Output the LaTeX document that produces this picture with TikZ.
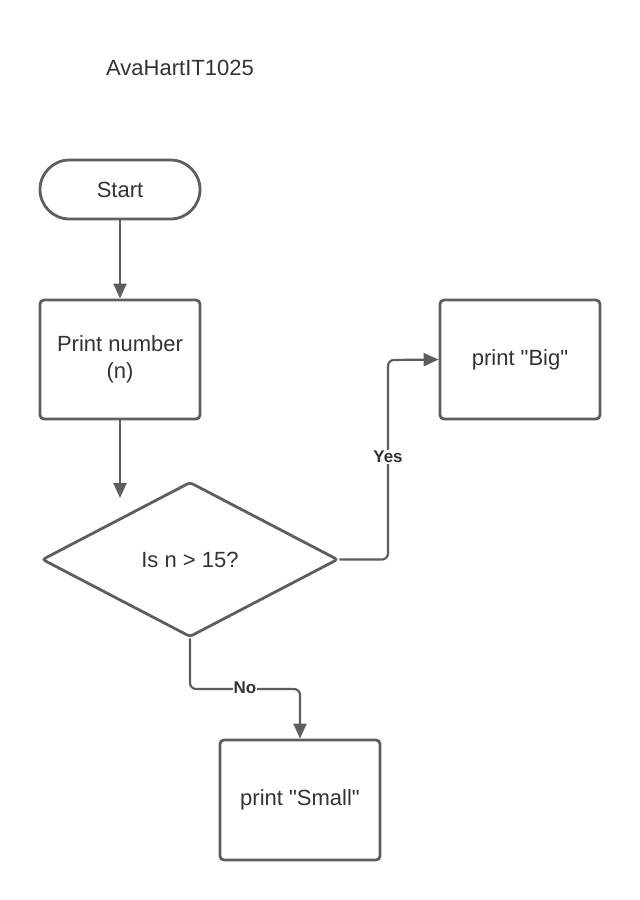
\documentclass[tikz,border=0pt]{standalone}
\usepackage{fontspec}
\setmainfont{Liberation Sans}[Ligatures=TeXOff]
\usetikzlibrary{shapes.geometric,arrows.meta}
\definecolor{linegray}{HTML}{5E5E5E}
\definecolor{textgray}{HTML}{333333}
\begin{document}
\begin{tikzpicture}[x=1pt,y=-1pt,
  txt/.style={text=textgray,font=\fontsize{22}{27}\selectfont},
  shapebox/.style={txt,draw=linegray,line width=2.8pt,rounded corners=4pt,
    minimum width=160pt,minimum height=120pt,inner sep=0pt,align=center},
  terminal/.style={shapebox,minimum height=59pt,rounded corners=29.5pt},
  decision/.style={txt,draw=linegray,line width=2.8pt,diamond,rounded corners=3pt,
    minimum width=296pt,minimum height=155pt,inner sep=0pt},
  conn/.style={draw=linegray,line width=2.2pt,rounded corners=6pt,
    -{Triangle[length=15pt,width=13pt]}},
  lbl/.style={fill=white,inner sep=1pt,text=textgray,
    font=\fontsize{17}{20}\selectfont\bfseries}
]
\useasboundingbox (0,0) rectangle (640,900);
\fill[white] (0,0) rectangle (640,900);

\node[txt] (title) at (180,68) {AvaHartIT1025};

\node[terminal] (start) at (120,189.5) {Start};
\node[shapebox,minimum height=119pt] (print) at (120,359.5) {Print number\\(n)};
\node[decision] (dec) at (190,559.5) {Is n > 15?};
\node[shapebox,minimum height=119pt] (big) at (520,359.5) {print "Big"};
\node[shapebox] (small) at (300,800) {print "Small"};

\coordinate (dtop) at (120,498);
\coordinate (yesbend) at (388,360);
\coordinate (nobend) at (300,689);

\draw[conn] (start.south) -- (print.north);
\draw[conn] (print.south) -- (dtop);
\draw[conn] (dec.east) -| (yesbend) -- (big.west);
\draw[conn] (dec.south) |- (nobend) -- (small.north);

\node[lbl] (yes) at (388,457) {Yes};
\node[lbl] (no) at (245,688) {No};
\end{tikzpicture}
\end{document}
